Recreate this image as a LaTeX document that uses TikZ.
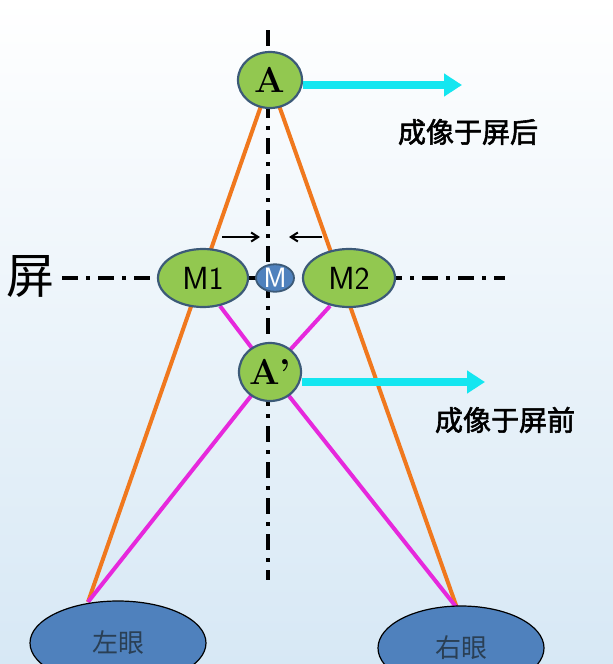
\documentclass[tikz,border=0pt]{standalone}
\usepackage{fontspec}
\newfontfamily\cjk{Noto Sans CJK SC}
\newfontfamily\cjkbold[FakeBold=2]{Noto Sans CJK SC}
\usetikzlibrary{shapes.geometric,arrows.meta}
\definecolor{nodegreen}{RGB}{146,200,80}
\definecolor{edgeblue}{RGB}{60,90,120}
\definecolor{eyeblue}{RGB}{79,129,189}
\definecolor{rayorange}{RGB}{240,120,30}
\definecolor{raypink}{RGB}{230,40,220}
\definecolor{arrowcyan}{RGB}{20,230,240}
\definecolor{bgblue}{RGB}{215,232,245}
\begin{document}
\begin{tikzpicture}[x=1pt,y=-1pt,
    greennode/.style={ellipse,draw=edgeblue,line width=2.2pt,fill=nodegreen,inner sep=0pt},
    eyenode/.style={ellipse,draw=black,line width=1.2pt,fill=eyeblue,inner sep=0pt,font=\cjk\fontsize{26}{26}\selectfont,text=edgeblue!70!black},
    axisline/.style={line width=4pt,dash pattern=on 16pt off 8pt on 4pt off 8pt},
    ray/.style={line width=4pt},
    bigarrow/.style={line width=8pt,arrowcyan,-{Triangle[length=18pt,width=22pt]}},
    thinarrow/.style={line width=2pt,-{Straight Barb[length=7pt,width=9pt]}},
    caption/.style={font=\cjkbold\fontsize{28}{28}\selectfont}]
    % background
    \shade[top color=white,bottom color=bgblue] (0,0) rectangle (613,664);
    \useasboundingbox (0,0) rectangle (613,664);
    % axes
    \draw[axisline] (268,30) -- (268,580);
    \draw[axisline] (62,278) -- (505,278);
    \node[font=\cjk\fontsize{48}{48}\selectfont] (screen) at (30,276) {屏};
    % ray end points on the eyes
    \coordinate (lefteye) at (88,602);
    \coordinate (righteye) at (457,608);
    \coordinate (m1foot) at (220,306);
    \coordinate (m2foot) at (330,306);
    % rays
    \draw[ray,rayorange] (lefteye) -- (270,80) -- (righteye);
    \draw[ray,raypink] (m1foot) -- (270,372) -- (righteye);
    \draw[ray,raypink] (m2foot) -- (270,372) -- (lefteye);
    % nodes
    \node[greennode,minimum width=64pt,minimum height=56pt,font=\fontsize{36}{36}\selectfont\bfseries] (A) at (270,80) {A};
    \node[greennode,minimum width=90pt,minimum height=58pt,font=\fontsize{32}{32}\selectfont\sffamily] (M1) at (203,278) {M1};
    \node[greennode,minimum width=92pt,minimum height=58pt,font=\fontsize{32}{32}\selectfont\sffamily] (M2) at (349,278) {M2};
    \node[ellipse,draw=edgeblue,line width=1.8pt,fill=eyeblue,minimum width=38pt,minimum height=25pt,inner sep=0pt,text=white,font=\fontsize{28}{28}\selectfont\sffamily] (M) at (275,278) {M};
    \node[greennode,minimum width=62pt,minimum height=58pt,font=\fontsize{36}{36}\selectfont\bfseries] (A2) at (270,372) {A'};
    \node[eyenode,minimum width=176pt,minimum height=84pt] (left) at (118,643) {左眼};
    \node[eyenode,minimum width=166pt,minimum height=84pt] (right) at (461,648) {右眼};
    % motion arrows
    \draw[bigarrow] (A.east) ++(0,5) -- (462,85);
    \draw[bigarrow] (A2.east) ++(0,10) -- (485,382);
    \node[caption] (behind) at (468,132) {成像于屏后};
    \node[caption] (front) at (505,420) {成像于屏前};
    \draw[thinarrow] (222,237) -- (260,237);
    \draw[thinarrow] (322,237) -- (289,237);
\end{tikzpicture}
\end{document}
